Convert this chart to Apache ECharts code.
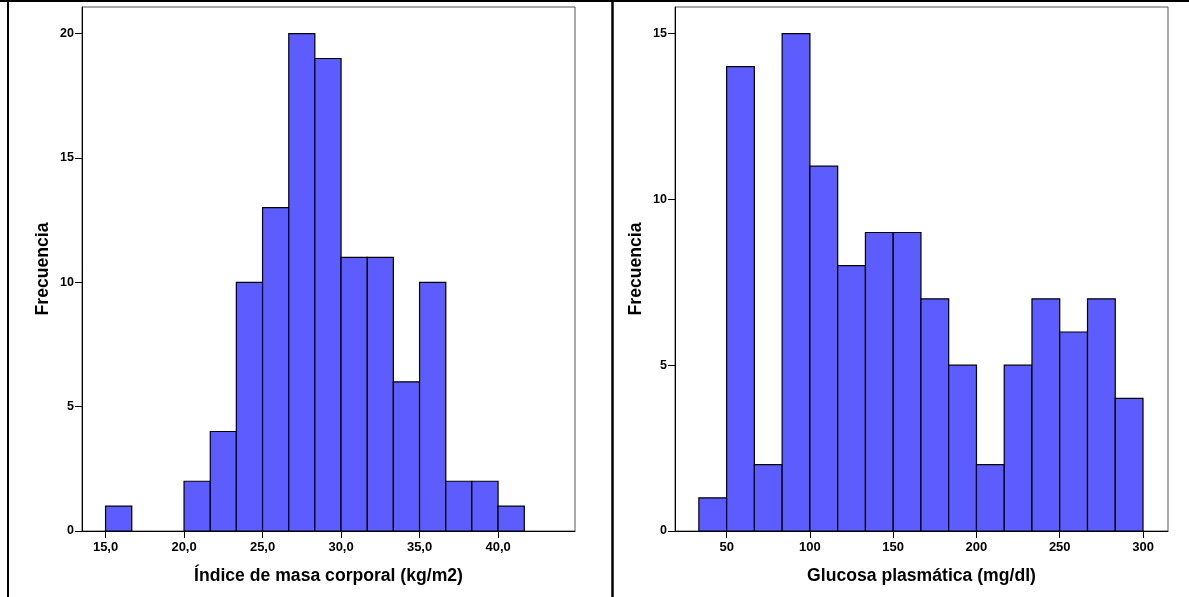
<!DOCTYPE html>
<html>
<head>
<meta charset="utf-8">
<title>Histogramas</title>
<script src="https://cdn.jsdelivr.net/npm/echarts@6/dist/echarts.min.js"></script>
<style>
  html, body { margin: 0; padding: 0; background: #fff; }
  #chart { width: 1189px; height: 597px; }
</style>
</head>
<body>
<div id="chart"></div>
<script>
// Índice de masa corporal: bin edges and counts
const bmiEdges = [15.00, 16.67, 18.33, 20.00, 21.67, 23.33, 25.00, 26.67, 28.33,
  30.00, 31.67, 33.33, 35.00, 36.67, 38.33, 40.00, 41.67]
const bmiCounts = [1, 0, 0, 2, 4, 10, 13, 20, 19, 11, 11, 6, 10, 2, 2, 1]
const bmiTicks = [15, 20, 25, 30, 35, 40]

// Glucosa plasmática: bin edges and counts
const gluEdges = [33.33, 50.00, 66.67, 83.33, 100.00, 116.67, 133.33, 150.00, 166.67,
  183.33, 200.00, 216.67, 233.33, 250.00, 266.67, 283.33, 300.00]
const gluCounts = [1, 14, 2, 15, 11, 8, 9, 9, 7, 5, 2, 5, 7, 6, 7, 4]
const gluTicks = [50, 100, 150, 200, 250, 300]

const freqTicksBmi = [0, 5, 10, 15, 20]
const freqTicksGlu = [0, 5, 10, 15]

const FONT = "'Liberation Sans', Arial, sans-serif"
const BAR = '#5c5cff'

function toBins(edges, counts) {
  return counts.map((c, i) => [edges[i], edges[i + 1], c])
}

function renderBin(params, api) {
  const count = api.value(2)
  if (!count) return null
  const p0 = api.coord([api.value(0), count])
  const p1 = api.coord([api.value(1), 0])
  return {
    type: 'rect',
    shape: { x: p0[0], y: p0[1], width: p1[0] - p0[0], height: p1[1] - p0[1] },
    style: { fill: BAR, stroke: '#000', lineWidth: 1.2 }
  }
}

function xAxisOf(idx, min, max, ticks, name, fmt) {
  return {
    type: 'value',
    gridIndex: idx,
    min: min,
    max: max,
    name: name,
    nameLocation: 'middle',
    nameGap: 36,
    nameTextStyle: { fontFamily: FONT, fontWeight: 'bold', fontSize: 17.6, color: '#000' },
    axisLine: { show: true, lineStyle: { color: '#000', width: 1 } },
    axisTick: { show: true, inside: false, length: 7, customValues: ticks, lineStyle: { color: '#000', width: 1 } },
    axisLabel: {
      customValues: ticks,
      margin: 10,
      fontFamily: FONT,
      fontWeight: 'bold',
      fontSize: 13,
      color: '#000',
      formatter: fmt
    },
    splitLine: { show: false }
  }
}

function yAxisOf(idx, max, ticks) {
  return {
    type: 'value',
    gridIndex: idx,
    min: 0,
    max: max,
    name: 'Frecuencia',
    nameLocation: 'middle',
    nameGap: 30,
    nameTextStyle: { fontFamily: FONT, fontWeight: 'bold', fontSize: 17.6, color: '#000' },
    axisLine: { show: true, lineStyle: { color: '#000', width: 1 } },
    axisTick: { show: true, inside: false, length: 7, customValues: ticks, lineStyle: { color: '#000', width: 1 } },
    axisLabel: {
      customValues: ticks,
      margin: 8,
      fontFamily: FONT,
      fontWeight: 'bold',
      fontSize: 12.5,
      color: '#000'
    },
    splitLine: { show: false }
  }
}

const chart = echarts.init(document.getElementById('chart'))

chart.setOption({
  animation: false,
  backgroundColor: '#fff',
  grid: [
    { left: 82, top: 7, width: 493, height: 524, show: true, borderColor: '#555', borderWidth: 1 },
    { left: 675, top: 7, width: 493, height: 524, show: true, borderColor: '#555', borderWidth: 1 }
  ],
  xAxis: [
    xAxisOf(0, 13.5, 44.9, bmiTicks, 'Índice de masa corporal (kg/m2)',
      v => v.toFixed(1).replace('.', ',')),
    xAxisOf(1, 19, 315, gluTicks, 'Glucosa plasmática (mg/dl)', v => String(v))
  ],
  yAxis: [
    yAxisOf(0, 21.07, freqTicksBmi),
    yAxisOf(1, 15.8, freqTicksGlu)
  ],
  series: [
    {
      type: 'custom',
      xAxisIndex: 0,
      yAxisIndex: 0,
      renderItem: renderBin,
      encode: { x: [0, 1], y: 2 },
      data: toBins(bmiEdges, bmiCounts)
    },
    {
      type: 'custom',
      xAxisIndex: 1,
      yAxisIndex: 1,
      renderItem: renderBin,
      encode: { x: [0, 1], y: 2 },
      data: toBins(gluEdges, gluCounts)
    }
  ],
  graphic: [
    // outer frame and panel divider
    { type: 'line', shape: { x1: 0, y1: 1, x2: 1189, y2: 1 }, style: { stroke: '#000', lineWidth: 2 } },
    { type: 'line', shape: { x1: 8, y1: 0, x2: 8, y2: 597 }, style: { stroke: '#000', lineWidth: 2 } },
    { type: 'line', shape: { x1: 612.5, y1: 0, x2: 612.5, y2: 597 }, style: { stroke: '#000', lineWidth: 2.5 } }
  ]
})
</script>
</body>
</html>
